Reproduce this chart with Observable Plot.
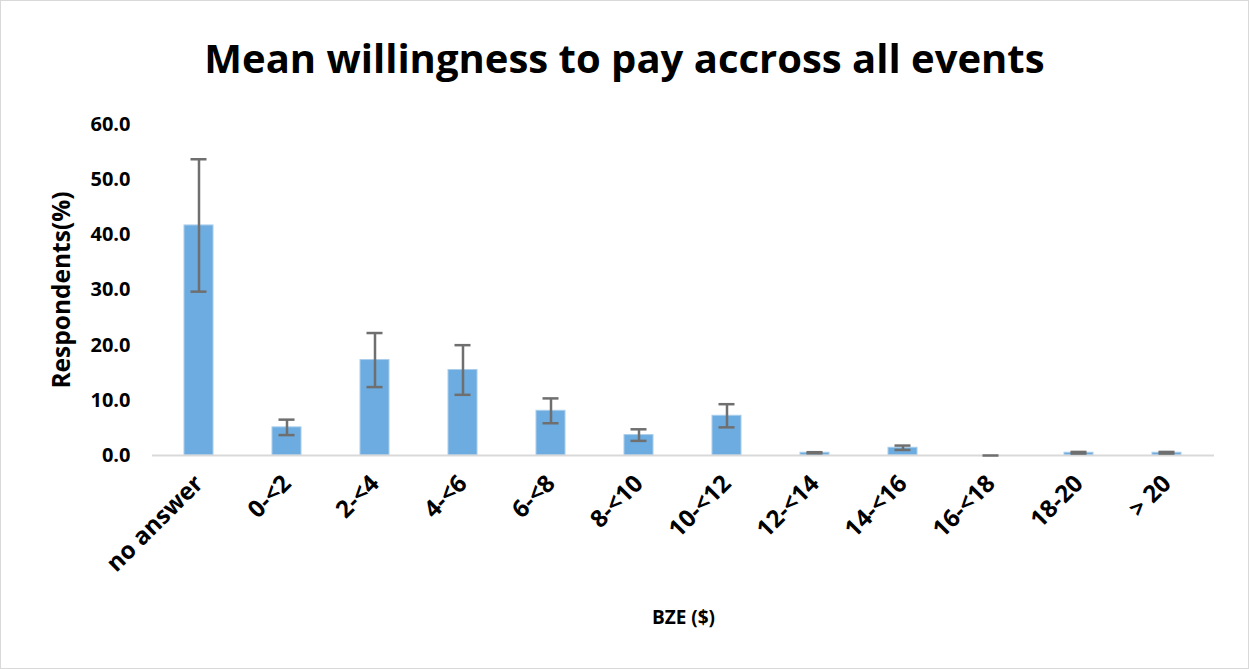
<!DOCTYPE html>
<html>
<head>
<meta charset="utf-8">
<script src="https://cdn.jsdelivr.net/npm/d3@7"></script>
<script src="https://cdn.jsdelivr.net/npm/@observablehq/plot@0.6"></script>
<style>
  html, body { margin: 0; padding: 0; background: #fff; }
  #frame { width: 1247px; height: 667px; border: 1px solid #d9d9d9; position: relative; overflow: hidden; font-family: "Open Sans", sans-serif; }
  #title { height: 104px; box-sizing: border-box; padding-top: 33px; text-align: center; font-weight: 700; font-size: 40px; line-height: 48px; color: #000; }
</style>
</head>
<body>
<div id="frame">
  <div id="title">Mean willingness to pay accross all events</div>
  <div id="chart"></div>
</div>
<script>
const categories = ["no answer", "0-<2", "2-<4", "4-<6", "6-<8", "8-<10", "10-<12", "12-<14", "14-<16", "16-<18", "18-20", "> 20"];
const means = [41.7, 5.1, 17.3, 15.5, 8.1, 3.7, 7.2, 0.5, 1.4, 0.0, 0.5, 0.5];
const errors = [12.0, 1.4, 4.9, 4.5, 2.25, 1.05, 2.1, 0.1, 0.4, 0.0, 0.15, 0.15];
const yTicks = [0, 10, 20, 30, 40, 50, 60];

const data = categories.map((c, i) => ({cat: c, v: means[i], lo: means[i] - errors[i], hi: means[i] + errors[i]}));

const font = "Open Sans, sans-serif";
const chart = Plot.plot({
  width: 1247,
  height: 563,
  marginTop: 19,
  marginBottom: 213,
  marginLeft: 151,
  marginRight: 34,
  style: {fontFamily: font, fontWeight: 700, fontSize: "18px", color: "#000", background: "transparent", overflow: "visible"},
  x: {domain: categories, paddingInner: 0.67, paddingOuter: 0.335, label: "BZE ($)"},
  y: {domain: [0, 60], ticks: yTicks, label: "Respondents(%)"},
  marks: [
    Plot.barY(data, {x: "cat", y: "v", fill: "#6cace0", stroke: "#a9cdeb", strokeWidth: 1}),
    Plot.ruleY([0], {stroke: "#d9d9d9", strokeWidth: 2}),
    Plot.ruleX(data.filter(d => d.hi > d.lo), {x: "cat", y1: "lo", y2: "hi", stroke: "#6f6f6f", strokeWidth: 2.5}),
    Plot.tickY(data, {x: "cat", y: "hi", stroke: "#6f6f6f", strokeWidth: 2.5, insetLeft: 6.5, insetRight: 6.5}),
    Plot.tickY(data.filter(d => d.hi > d.lo), {x: "cat", y: "lo", stroke: "#6f6f6f", strokeWidth: 2.5, insetLeft: 6.5, insetRight: 6.5}),
    Plot.axisY({ticks: yTicks, tickFormat: d3.format(".1f"), tickSize: 0, tickPadding: 22, fontSize: 20, label: "Respondents(%)", labelAnchor: "center", labelArrow: "none", labelOffset: 100, fontWeight: 700}),
    Plot.axisX({tickSize: 0, tickPadding: 24, tickRotate: -45, fontSize: 24, label: "BZE ($)", labelAnchor: "center", labelArrow: "none", labelOffset: 168})
  ]
});
document.getElementById("chart").appendChild(chart);
// style axis labels
chart.querySelectorAll("[aria-label='y-axis label'] text").forEach(t => t.setAttribute("font-size", "24.5"));
chart.querySelectorAll("[aria-label='x-axis label'] text").forEach(t => t.setAttribute("font-size", "19"));
</script>
</body>
</html>
